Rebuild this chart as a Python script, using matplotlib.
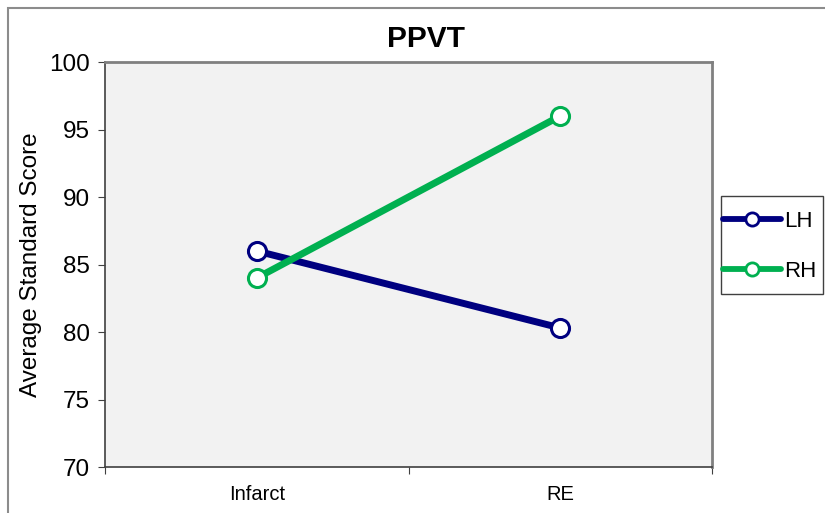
import matplotlib
matplotlib.use("Agg")
import matplotlib.pyplot as plt
from matplotlib.patches import Rectangle
from matplotlib.lines import Line2D

categories = ["Infarct", "RE"]
lh_values = [86.0, 80.3]
rh_values = [84.0, 96.0]
series_names = ["LH", "RH"]
y_ticks = [70, 75, 80, 85, 90, 95, 100]

plt.rcParams['font.family'] = ['Liberation Sans', 'DejaVu Sans']

W, H = 825, 513
fig = plt.figure(figsize=(W / 100, H / 100), dpi=100)
fig.patch.set_facecolor("white")

# outer border
fig.patches.append(Rectangle((8 / W, -0.01), 1.0, 1 - 8 / H + 0.01, transform=fig.transFigure,
                             fill=False, edgecolor="#8c8c8c", linewidth=1.5))

L, R, T, B = 105, 712, 62, 467
ax = fig.add_axes([L / W, 1 - B / H, (R - L) / W, (B - T) / H])
ax.set_facecolor("#f2f2f2")
for s in ax.spines.values():
    s.set_color("#808080")
    s.set_linewidth(2)
ax.spines["bottom"].set_color("#404040")
ax.spines["bottom"].set_linewidth(1.2)
ax.spines["left"].set_color("#404040")
ax.spines["left"].set_linewidth(1.2)

colors = ["#000080", "#00b050"]
x = [0, 1]
for vals, c, name, z in [(lh_values, colors[0], series_names[0], 3),
                         (rh_values, colors[1], series_names[1], 4)]:
    ax.plot(x, vals, color=c, lw=5, marker="o", ms=13, mfc="white",
            mec=c, mew=2.2, label=name, solid_capstyle="round", zorder=z)

ax.set_xlim(-0.5, 1.5)
ax.set_ylim(70, 100)
ax.set_yticks(y_ticks)
ax.set_yticklabels([str(v) for v in y_ticks], fontsize=17.5)
ax.set_xticks([-0.5, 0.5, 1.5])
ax.set_xticklabels([])
ax.set_xticks(x, minor=True)
ax.set_xticklabels(categories, minor=True, fontsize=14.5)
ax.tick_params(axis="x", which="minor", length=0, pad=13)
ax.tick_params(axis="x", which="major", length=5, direction="out", color="#404040")
ax.tick_params(axis="y", length=5, direction="out", color="#404040", pad=6)

ax.set_ylabel("Average Standard Score", fontsize=17.5, labelpad=5)
fig.text(426 / W, 1 - 47 / H, "PPVT", fontsize=21.5, fontweight="bold",
         ha="center", va="baseline")

# legend
handles = [Line2D([], [], color=c, lw=4.2, marker="o", ms=9.5, mfc="white", mec=c, mew=2,
                  solid_capstyle="round") for c in colors]
leg = fig.legend(handles, series_names, loc="upper left",
                 bbox_to_anchor=(723 / W, 1 - 211 / H), fontsize=16,
                 frameon=False, handlelength=2.6, handletextpad=0.15,
                 borderpad=0, labelspacing=1.3, borderaxespad=0)
fig.patches.append(Rectangle((721 / W, 1 - 294 / H), (823 - 721) / W, (294 - 196) / H,
                             transform=fig.transFigure, fill=False,
                             edgecolor="#404040", linewidth=1.0))

fig.savefig("out.png", dpi=100)
